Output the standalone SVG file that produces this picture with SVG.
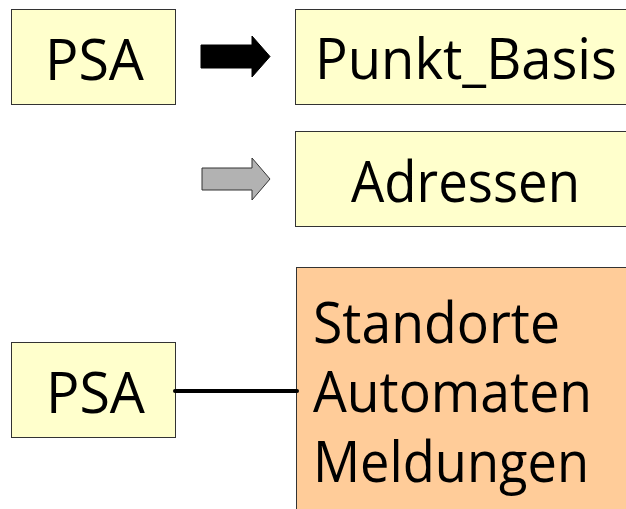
<svg xmlns="http://www.w3.org/2000/svg" width="626" height="509" viewBox="0 0 626 509">
<style>
.box{fill:#FFFFCC;stroke:#333;stroke-width:1}
.box2{fill:#FFCC99;stroke:#333;stroke-width:1}
.t{font-family:"Open Sans","Liberation Sans",sans-serif;font-size:56px;fill:#000}
</style>
<rect width="626" height="509" fill="#fff"/>
<g id="psa1"><rect class="box" x="11.5" y="9.5" width="164" height="95"/><text class="t" x="45" y="80" textLength="99" lengthAdjust="spacingAndGlyphs">PSA</text></g>
<g id="punkt_basis"><rect class="box" x="295.5" y="9.5" width="340" height="95"/><text class="t" x="315" y="79" textLength="302" lengthAdjust="spacingAndGlyphs">Punkt_Basis</text></g>
<g id="adressen"><rect class="box" x="295.5" y="131.5" width="340" height="95"/><text class="t" x="351" y="202" textLength="229" lengthAdjust="spacingAndGlyphs">Adressen</text></g>
<g id="psa2"><rect class="box" x="11.5" y="342.5" width="164" height="95"/><text class="t" x="46" y="413" textLength="99" lengthAdjust="spacingAndGlyphs">PSA</text></g>
<g id="standorte"><rect class="box2" x="296.5" y="267.5" width="340" height="260"/>
<text class="t" x="313" y="343" textLength="247" lengthAdjust="spacingAndGlyphs">Standorte</text>
<text class="t" x="313" y="412" textLength="279" lengthAdjust="spacingAndGlyphs">Automaten</text>
<text class="t" x="313" y="482" textLength="276" lengthAdjust="spacingAndGlyphs">Meldungen</text></g>
<g id="connectors">
<polygon points="201,45 252,45 252,36 270,56.5 252,77 252,68 201,68" fill="#000" stroke="#000" stroke-width="1"/>
<polygon points="202,168 252,168 252,158 270,179 252,200 252,190 202,190" fill="#B2B2B2" stroke="#333" stroke-width="1"/>
<line x1="175" y1="391" x2="297" y2="391" stroke="#000" stroke-width="4" stroke-linecap="round"/>
</g>
</svg>
